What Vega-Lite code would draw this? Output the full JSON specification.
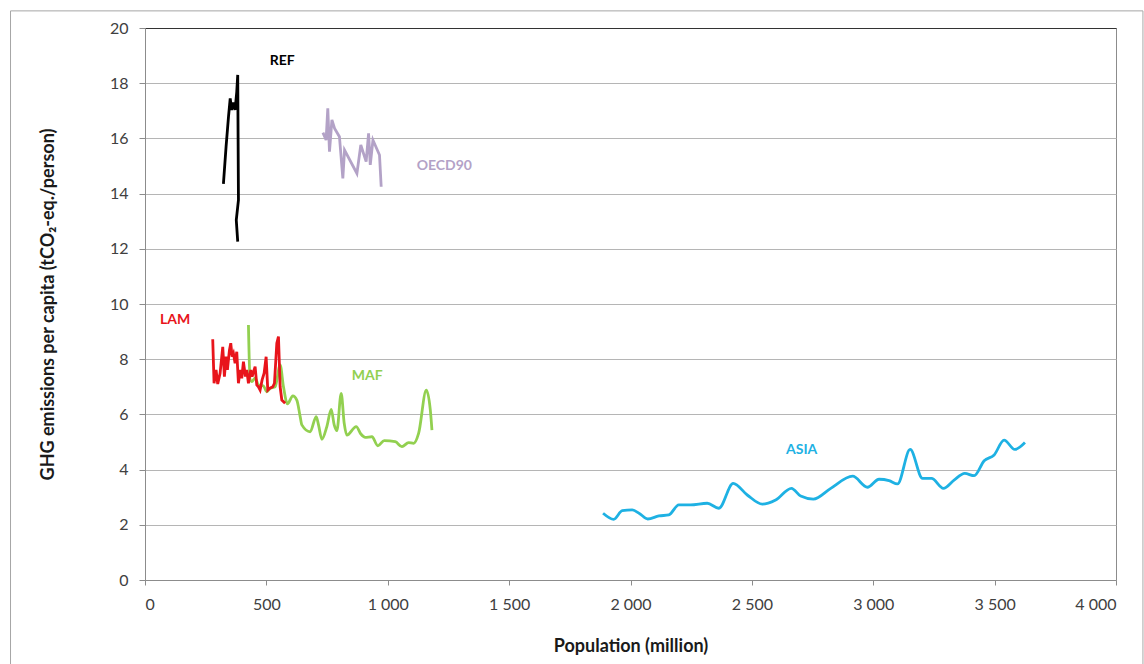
{
  "$schema": "https://vega.github.io/schema/vega-lite/v6.json",
  "width": 971,
  "height": 552,
  "autosize": "none",
  "padding": {"left": 145, "top": 28, "right": 28, "bottom": 84},
  "background": "white",
  "config": {
    "font": "Lato",
    "view": {"stroke": "#8c8c8c", "strokeWidth": 1},
    "axis": {
      "labelFont": "Lato",
      "labelFontSize": 16,
      "labelColor": "#404040",
      "titleFont": "Lato",
      "titleFontSize": 18,
      "titleFontWeight": "bold",
      "titleColor": "#1a1a1a",
      "domainColor": "#8c8c8c",
      "tickColor": "#8c8c8c",
      "gridColor": "#b5b5b5"
    }
  },
  "datasets": {
    "frame": [
      {"pop": -554, "ghg": 20.62, "pop2": 4111, "ghg2": -4}
    ],
    "lines": [
      {"series": "REF", "i": 1, "pop": 323, "ghg": 14.35},
      {"series": "REF", "i": 2, "pop": 334, "ghg": 15.7},
      {"series": "REF", "i": 3, "pop": 344, "ghg": 16.79},
      {"series": "REF", "i": 4, "pop": 351, "ghg": 17.45},
      {"series": "REF", "i": 5, "pop": 357, "ghg": 17.03},
      {"series": "REF", "i": 6, "pop": 364, "ghg": 17.3},
      {"series": "REF", "i": 7, "pop": 371, "ghg": 17.03},
      {"series": "REF", "i": 8, "pop": 378, "ghg": 17.69},
      {"series": "REF", "i": 9, "pop": 382, "ghg": 18.3},
      {"series": "REF", "i": 10, "pop": 385, "ghg": 13.77},
      {"series": "REF", "i": 11, "pop": 376, "ghg": 13.04},
      {"series": "REF", "i": 12, "pop": 382, "ghg": 12.26},

      {"series": "OECD90", "i": 1, "pop": 733, "ghg": 16.21},
      {"series": "OECD90", "i": 2, "pop": 746, "ghg": 15.94},
      {"series": "OECD90", "i": 3, "pop": 753, "ghg": 17.09},
      {"series": "OECD90", "i": 4, "pop": 760, "ghg": 15.52},
      {"series": "OECD90", "i": 5, "pop": 770, "ghg": 16.67},
      {"series": "OECD90", "i": 6, "pop": 781, "ghg": 16.36},
      {"series": "OECD90", "i": 7, "pop": 801, "ghg": 16.06},
      {"series": "OECD90", "i": 8, "pop": 815, "ghg": 14.55},
      {"series": "OECD90", "i": 9, "pop": 822, "ghg": 15.58},
      {"series": "OECD90", "i": 10, "pop": 873, "ghg": 14.73},
      {"series": "OECD90", "i": 11, "pop": 889, "ghg": 15.76},
      {"series": "OECD90", "i": 12, "pop": 911, "ghg": 15.16},
      {"series": "OECD90", "i": 13, "pop": 921, "ghg": 16.18},
      {"series": "OECD90", "i": 14, "pop": 928, "ghg": 15.04},
      {"series": "OECD90", "i": 15, "pop": 939, "ghg": 15.94},
      {"series": "OECD90", "i": 16, "pop": 966, "ghg": 15.4},
      {"series": "OECD90", "i": 17, "pop": 973, "ghg": 14.25},

      {"series": "LAM", "i": 1, "pop": 279, "ghg": 8.72},
      {"series": "LAM", "i": 2, "pop": 284.5, "ghg": 7.13},
      {"series": "LAM", "i": 3, "pop": 292.8, "ghg": 7.61},
      {"series": "LAM", "i": 4, "pop": 299.6, "ghg": 7.1},
      {"series": "LAM", "i": 5, "pop": 309.3, "ghg": 7.49},
      {"series": "LAM", "i": 6, "pop": 320.3, "ghg": 8.45},
      {"series": "LAM", "i": 7, "pop": 327.1, "ghg": 7.37},
      {"series": "LAM", "i": 8, "pop": 334, "ghg": 8.09},
      {"series": "LAM", "i": 9, "pop": 339.5, "ghg": 7.61},
      {"series": "LAM", "i": 10, "pop": 347.8, "ghg": 8.33},
      {"series": "LAM", "i": 11, "pop": 353.3, "ghg": 8.58},
      {"series": "LAM", "i": 12, "pop": 358.8, "ghg": 8.09},
      {"series": "LAM", "i": 13, "pop": 364.3, "ghg": 8.21},
      {"series": "LAM", "i": 14, "pop": 371.1, "ghg": 7.85},
      {"series": "LAM", "i": 15, "pop": 378, "ghg": 8.27},
      {"series": "LAM", "i": 16, "pop": 384.9, "ghg": 7.13},
      {"series": "LAM", "i": 17, "pop": 391.8, "ghg": 7.61},
      {"series": "LAM", "i": 18, "pop": 398.6, "ghg": 7.31},
      {"series": "LAM", "i": 19, "pop": 405.5, "ghg": 7.91},
      {"series": "LAM", "i": 20, "pop": 413.7, "ghg": 7.37},
      {"series": "LAM", "i": 21, "pop": 419.2, "ghg": 7.61},
      {"series": "LAM", "i": 22, "pop": 426.1, "ghg": 7.13},
      {"series": "LAM", "i": 23, "pop": 435.7, "ghg": 7.61},
      {"series": "LAM", "i": 24, "pop": 441.2, "ghg": 7.37},
      {"series": "LAM", "i": 25, "pop": 453.6, "ghg": 7.73},
      {"series": "LAM", "i": 26, "pop": 460.5, "ghg": 7.07},
      {"series": "LAM", "i": 27, "pop": 467.3, "ghg": 7.0},
      {"series": "LAM", "i": 28, "pop": 474.2, "ghg": 6.88},
      {"series": "LAM", "i": 29, "pop": 482.5, "ghg": 7.25},
      {"series": "LAM", "i": 30, "pop": 490.7, "ghg": 7.49},
      {"series": "LAM", "i": 31, "pop": 499, "ghg": 8.09},
      {"series": "LAM", "i": 32, "pop": 505.8, "ghg": 6.88},
      {"series": "LAM", "i": 33, "pop": 512.7, "ghg": 6.94},
      {"series": "LAM", "i": 34, "pop": 526.5, "ghg": 7.0},
      {"series": "LAM", "i": 35, "pop": 533.3, "ghg": 7.13},
      {"series": "LAM", "i": 36, "pop": 543, "ghg": 8.58},
      {"series": "LAM", "i": 37, "pop": 549.8, "ghg": 8.82},
      {"series": "LAM", "i": 38, "pop": 556.7, "ghg": 7.0},
      {"series": "LAM", "i": 39, "pop": 563.6, "ghg": 6.52},
      {"series": "LAM", "i": 40, "pop": 577.3, "ghg": 6.4},

      {"series": "MAF", "i": 1, "pop": 426.1, "ghg": 9.24},
      {"series": "MAF", "i": 2, "pop": 433, "ghg": 7.25},
      {"series": "MAF", "i": 3, "pop": 439.9, "ghg": 7.19},
      {"series": "MAF", "i": 4, "pop": 453.6, "ghg": 7.31},
      {"series": "MAF", "i": 5, "pop": 467.3, "ghg": 7.07},
      {"series": "MAF", "i": 6, "pop": 488, "ghg": 7.03},
      {"series": "MAF", "i": 7, "pop": 501.7, "ghg": 6.82},
      {"series": "MAF", "i": 8, "pop": 515.5, "ghg": 6.94},
      {"series": "MAF", "i": 9, "pop": 536.1, "ghg": 7.0},
      {"series": "MAF", "i": 10, "pop": 556.7, "ghg": 7.79},
      {"series": "MAF", "i": 11, "pop": 570.4, "ghg": 7.0},
      {"series": "MAF", "i": 12, "pop": 586.9, "ghg": 6.38},
      {"series": "MAF", "i": 13, "pop": 608.9, "ghg": 6.67},
      {"series": "MAF", "i": 14, "pop": 625.4, "ghg": 6.52},
      {"series": "MAF", "i": 15, "pop": 639.2, "ghg": 5.92},
      {"series": "MAF", "i": 16, "pop": 646.1, "ghg": 5.62},
      {"series": "MAF", "i": 17, "pop": 680.4, "ghg": 5.37},
      {"series": "MAF", "i": 18, "pop": 705.2, "ghg": 5.92},
      {"series": "MAF", "i": 19, "pop": 714.8, "ghg": 5.62},
      {"series": "MAF", "i": 20, "pop": 728.5, "ghg": 5.1},
      {"series": "MAF", "i": 21, "pop": 749.1, "ghg": 5.56},
      {"series": "MAF", "i": 22, "pop": 767, "ghg": 6.18},
      {"series": "MAF", "i": 23, "pop": 779.4, "ghg": 5.62},
      {"series": "MAF", "i": 24, "pop": 790.4, "ghg": 5.41},
      {"series": "MAF", "i": 25, "pop": 808.2, "ghg": 6.76},
      {"series": "MAF", "i": 26, "pop": 820.6, "ghg": 5.68},
      {"series": "MAF", "i": 27, "pop": 831.6, "ghg": 5.25},
      {"series": "MAF", "i": 28, "pop": 870.1, "ghg": 5.56},
      {"series": "MAF", "i": 29, "pop": 889.3, "ghg": 5.29},
      {"series": "MAF", "i": 30, "pop": 907.2, "ghg": 5.17},
      {"series": "MAF", "i": 31, "pop": 934.7, "ghg": 5.19},
      {"series": "MAF", "i": 32, "pop": 959.4, "ghg": 4.86},
      {"series": "MAF", "i": 33, "pop": 985.6, "ghg": 5.05},
      {"series": "MAF", "i": 34, "pop": 1030.9, "ghg": 5.01},
      {"series": "MAF", "i": 35, "pop": 1058.4, "ghg": 4.83},
      {"series": "MAF", "i": 36, "pop": 1085.9, "ghg": 4.98},
      {"series": "MAF", "i": 37, "pop": 1106.5, "ghg": 4.95},
      {"series": "MAF", "i": 38, "pop": 1127.1, "ghg": 5.31},
      {"series": "MAF", "i": 39, "pop": 1158.8, "ghg": 6.88},
      {"series": "MAF", "i": 40, "pop": 1175.3, "ghg": 6.16},
      {"series": "MAF", "i": 41, "pop": 1182.1, "ghg": 5.43},

      {"series": "ASIA", "i": 1, "pop": 1887, "ghg": 2.42},
      {"series": "ASIA", "i": 2, "pop": 1931, "ghg": 2.2},
      {"series": "ASIA", "i": 3, "pop": 1966, "ghg": 2.51},
      {"series": "ASIA", "i": 4, "pop": 2007, "ghg": 2.54},
      {"series": "ASIA", "i": 5, "pop": 2038, "ghg": 2.4},
      {"series": "ASIA", "i": 6, "pop": 2071, "ghg": 2.21},
      {"series": "ASIA", "i": 7, "pop": 2117, "ghg": 2.32},
      {"series": "ASIA", "i": 8, "pop": 2158, "ghg": 2.36},
      {"series": "ASIA", "i": 9, "pop": 2199, "ghg": 2.72},
      {"series": "ASIA", "i": 10, "pop": 2247, "ghg": 2.72},
      {"series": "ASIA", "i": 11, "pop": 2316, "ghg": 2.78},
      {"series": "ASIA", "i": 12, "pop": 2364, "ghg": 2.6},
      {"series": "ASIA", "i": 13, "pop": 2423, "ghg": 3.5},
      {"series": "ASIA", "i": 14, "pop": 2481, "ghg": 3.08},
      {"series": "ASIA", "i": 15, "pop": 2543, "ghg": 2.75},
      {"series": "ASIA", "i": 16, "pop": 2598, "ghg": 2.9},
      {"series": "ASIA", "i": 17, "pop": 2663, "ghg": 3.32},
      {"series": "ASIA", "i": 18, "pop": 2701, "ghg": 3.04},
      {"series": "ASIA", "i": 19, "pop": 2753, "ghg": 2.93},
      {"series": "ASIA", "i": 20, "pop": 2825, "ghg": 3.32},
      {"series": "ASIA", "i": 21, "pop": 2915, "ghg": 3.76},
      {"series": "ASIA", "i": 22, "pop": 2976, "ghg": 3.36},
      {"series": "ASIA", "i": 23, "pop": 3024, "ghg": 3.65},
      {"series": "ASIA", "i": 24, "pop": 3065, "ghg": 3.6},
      {"series": "ASIA", "i": 25, "pop": 3100, "ghg": 3.48},
      {"series": "ASIA", "i": 26, "pop": 3152, "ghg": 4.73},
      {"series": "ASIA", "i": 27, "pop": 3203, "ghg": 3.68},
      {"series": "ASIA", "i": 28, "pop": 3240, "ghg": 3.68},
      {"series": "ASIA", "i": 29, "pop": 3289, "ghg": 3.32},
      {"series": "ASIA", "i": 30, "pop": 3333, "ghg": 3.62},
      {"series": "ASIA", "i": 31, "pop": 3377, "ghg": 3.86},
      {"series": "ASIA", "i": 32, "pop": 3416, "ghg": 3.78},
      {"series": "ASIA", "i": 33, "pop": 3457, "ghg": 4.32},
      {"series": "ASIA", "i": 34, "pop": 3498, "ghg": 4.53},
      {"series": "ASIA", "i": 35, "pop": 3539, "ghg": 5.07},
      {"series": "ASIA", "i": 36, "pop": 3583, "ghg": 4.73},
      {"series": "ASIA", "i": 37, "pop": 3625, "ghg": 4.98}
    ],
    "labels": [
      {"series": "REF", "pop": 565, "ghg": 18.8},
      {"series": "OECD90", "pop": 1233, "ghg": 15.0},
      {"series": "LAM", "pop": 124, "ghg": 9.42},
      {"series": "MAF", "pop": 915, "ghg": 7.39},
      {"series": "ASIA", "pop": 2705, "ghg": 4.71}
    ]
  },
  "data": {"name": "lines"},
  "encoding": {
    "x": {
      "field": "pop",
      "type": "quantitative",
      "scale": {"domain": [0, 4000], "nice": false, "zero": false},
      "axis": {
        "title": "Population (million)",
        "values": [0, 500, 1000, 1500, 2000, 2500, 3000, 3500, 4000],
        "labelExpr": "replace(format(datum.value, ','), ',', ' ')",
        "grid": false,
        "tickSize": 5,
        "labelPadding": 11,
        "titlePadding": 25
      }
    },
    "y": {
      "field": "ghg",
      "type": "quantitative",
      "scale": {"domain": [0, 20], "nice": false},
      "axis": {
        "title": "GHG emissions per capita  (tCO₂-eq./person)",
        "values": [0, 2, 4, 6, 8, 10, 12, 14, 16, 18, 20],
        "grid": true,
        "gridColor": {"condition": {"test": "datum.value == 20", "value": "#333333"}, "value": "#b5b5b5"},
        "tickSize": 6,
        "labelPadding": 11,
        "titlePadding": 52
      }
    },
    "color": {
      "field": "series",
      "type": "nominal",
      "scale": {
        "domain": ["REF", "OECD90", "LAM", "MAF", "ASIA"],
        "range": ["#000000", "#b3a2c7", "#e8141b", "#92d050", "#1eb1e3"]
      },
      "legend": null
    }
  },
  "layer": [
    {
      "data": {"name": "frame"},
      "mark": {"type": "rect", "filled": false, "strokeWidth": 1},
      "encoding": {
        "x2": {"field": "pop2"},
        "y2": {"field": "ghg2"},
        "color": {"value": "#a6a6a6"}
      }
    },
    {
      "transform": [{"filter": {"field": "series", "oneOf": ["MAF", "ASIA"]}}],
      "mark": {"type": "line", "interpolate": "monotone", "strokeWidth": 2.8},
      "encoding": {"order": {"field": "i", "type": "quantitative"}}
    },
    {
      "transform": [{"filter": {"field": "series", "oneOf": ["OECD90", "REF", "LAM"]}}],
      "mark": {"type": "line", "strokeWidth": 2.8},
      "encoding": {"order": {"field": "i", "type": "quantitative"}}
    },
    {
      "data": {"name": "labels"},
      "mark": {"type": "text", "font": "Lato", "fontSize": 14, "fontWeight": "bold", "align": "center", "baseline": "middle"},
      "encoding": {"text": {"field": "series"}}
    }
  ]
}
